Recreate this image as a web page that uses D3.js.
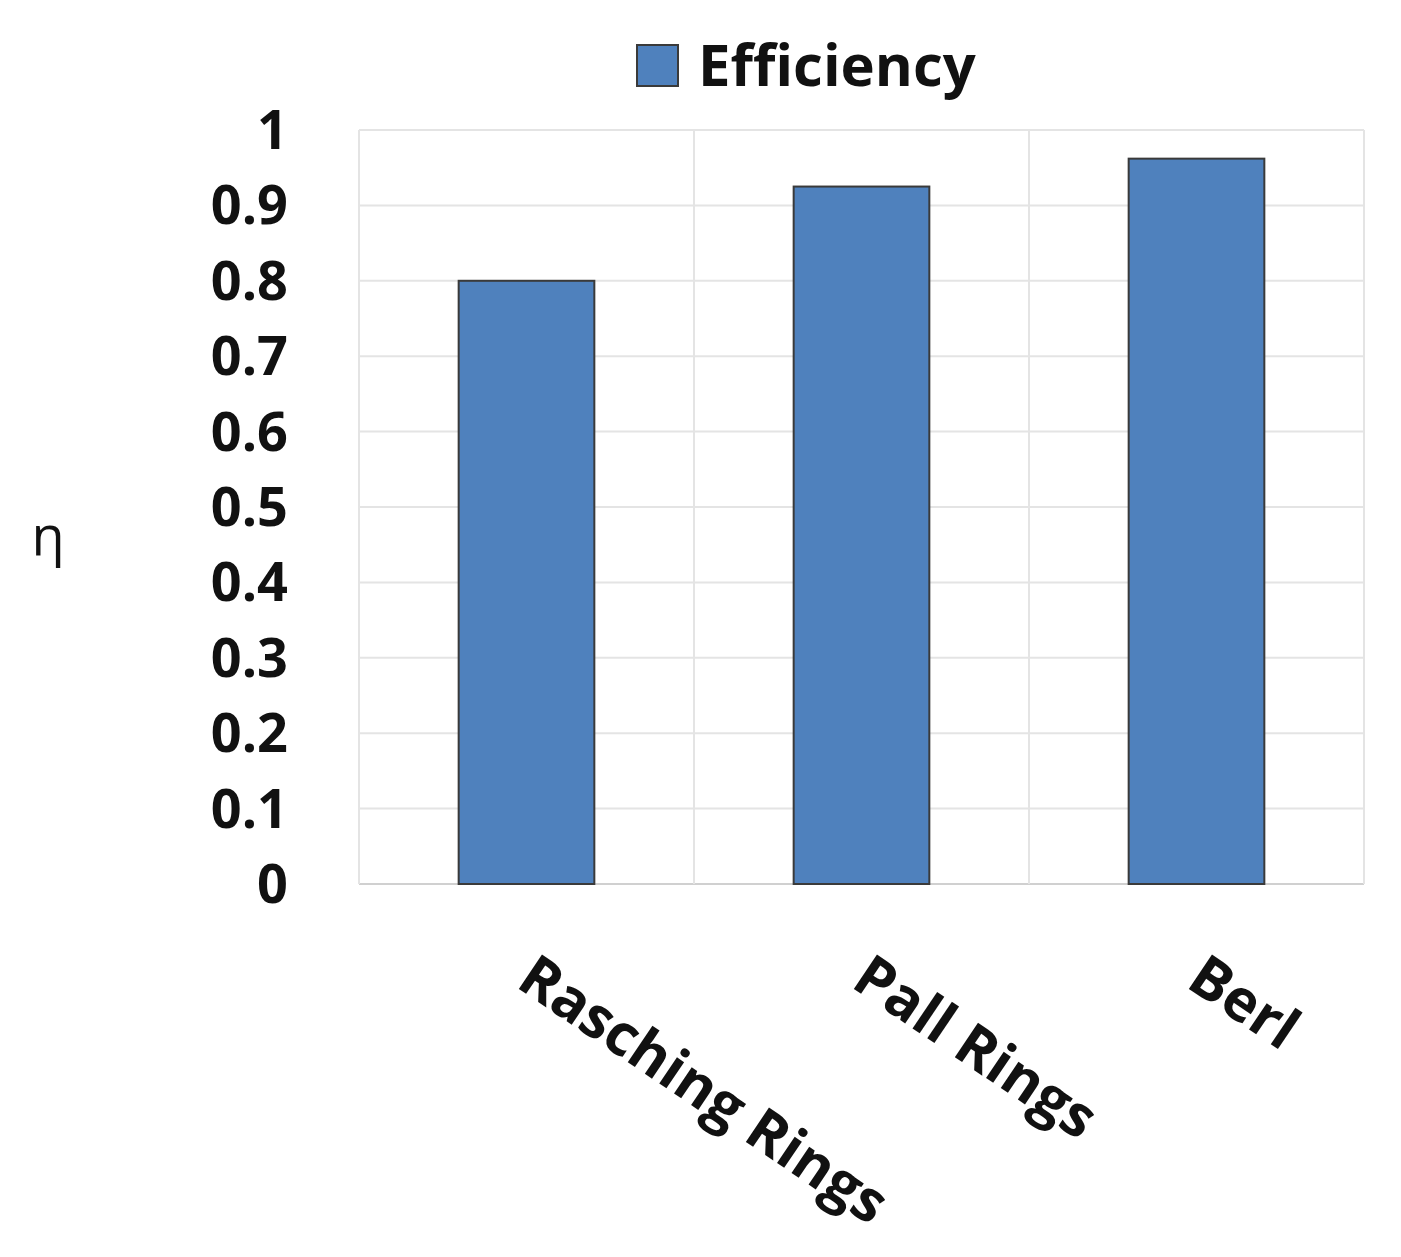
<!DOCTYPE html>
<html><head><meta charset="utf-8">
<script src="https://cdn.jsdelivr.net/npm/d3@7"></script>
<style>body{margin:0;background:#fff}</style>
</head><body>
<svg id="chart" width="1401" height="1257"></svg>
<script>
var categories = ["Rasching Rings", "Pall Rings", "Berl"];
var efficiency = [0.8, 0.925, 0.962];
var yTicks = [0, 0.1, 0.2, 0.3, 0.4, 0.5, 0.6, 0.7, 0.8, 0.9, 1];

var svg = d3.select("#chart");
var font = "'Open Sans', sans-serif";
var plotLeft = 359, plotRight = 1364, plotTop = 130, plotBottom = 884;

var x = d3.scaleBand().domain(categories).range([plotLeft, plotRight]).paddingInner(0).paddingOuter(0);
var y = d3.scaleLinear().domain([0, 1]).range([plotBottom, plotTop]);

// grid
svg.selectAll("line.h").data(yTicks).enter().append("line")
  .attr("x1", plotLeft).attr("x2", plotRight)
  .attr("y1", function(d){ return y(d); }).attr("y2", function(d){ return y(d); })
  .attr("stroke", function(d){ return d === 0 ? "#d0d0d0" : "#e4e4e4"; }).attr("stroke-width", 2);
var bounds = categories.map(function(c){ return x(c); }).concat([plotRight]);
svg.selectAll("line.v").data(bounds).enter().append("line")
  .attr("x1", function(d){ return d; }).attr("x2", function(d){ return d; })
  .attr("y1", plotTop).attr("y2", plotBottom)
  .attr("stroke", "#e4e4e4").attr("stroke-width", 2);

// bars
var bw = x.bandwidth() * 0.405;
svg.selectAll("rect.bar").data(efficiency).enter().append("rect")
  .attr("x", function(d, i){ return x(categories[i]) + x.bandwidth() / 2 - bw / 2; })
  .attr("width", bw)
  .attr("y", function(d){ return y(d); })
  .attr("height", function(d){ return y(0) - y(d); })
  .attr("fill", "#4f81bd").attr("stroke", "#3a3a3a").attr("stroke-width", 2);

// y axis labels
svg.selectAll("text.yt").data(yTicks).enter().append("text")
  .attr("x", 288).attr("y", function(d){ return y(d) + 19; })
  .attr("text-anchor", "end").attr("font-family", font).attr("font-weight", "bold")
  .attr("font-size", 54).attr("fill", "#111")
  .text(function(d){ return d3.format("")(d); });

// category labels
svg.selectAll("text.xt").data(categories).enter().append("text")
  .attr("transform", function(d){ return "translate(" + (x(d) + x.bandwidth() / 2 - 12) + ",986) rotate(34)"; })
  .attr("font-family", font).attr("font-weight", "bold").attr("font-size", 58).attr("fill", "#111")
  .text(function(d){ return d; });

// axis title
svg.append("text").attr("x", 48).attr("y", 555).attr("text-anchor", "middle")
  .attr("font-family", font).attr("font-size", 54).attr("fill", "#111").text("η");

// legend
svg.append("rect").attr("x", 637).attr("y", 45).attr("width", 41).attr("height", 41)
  .attr("fill", "#4f81bd").attr("stroke", "#3a3a3a").attr("stroke-width", 2);
svg.append("text").attr("x", 698).attr("y", 86)
  .attr("font-family", font).attr("font-weight", "bold").attr("font-size", 58).attr("fill", "#111")
  .text("Efficiency");
</script>
</body></html>
